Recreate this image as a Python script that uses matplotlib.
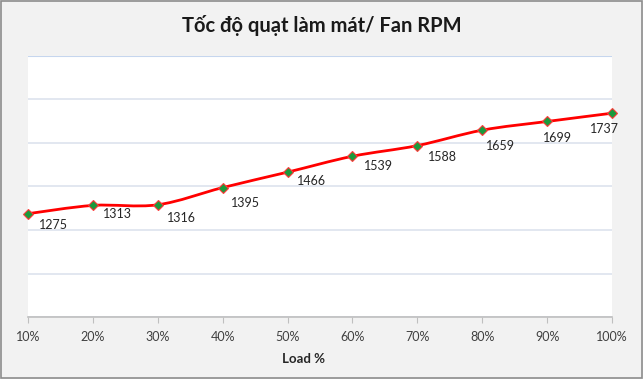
import numpy as np
import matplotlib.pyplot as plt
from matplotlib.path import Path
from matplotlib.patches import PathPatch, Rectangle

# chart data
load_pct = [10, 20, 30, 40, 50, 60, 70, 80, 90, 100]
tick_labels = ["10%", "20%", "30%", "40%", "50%", "60%", "70%", "80%", "90%", "100%"]
fan_rpm = [1275, 1313, 1316, 1395, 1466, 1539, 1588, 1659, 1699, 1737]

# label nudges in pixels (right, down), as placed in the original
label_dx = [25, 25, 24, 23, 24, 26, 25, 18, 10, -8]
label_dy = [11, 9, 13, 15, 9, 10, 11, 16, 17, 16]

plt.rcParams["font.family"] = ["Lato", "DejaVu Sans"]

fig = plt.figure(figsize=(6.43, 3.79), dpi=100)
fig.patch.set_facecolor("#f2f2f2")
fig.add_artist(Rectangle((0.002, 0.003), 0.996, 0.994, transform=fig.transFigure,
                         fill=False, edgecolor="#8c8c8c", linewidth=1.2))

W, H = 643, 379
ax = fig.add_axes([28 / W, (H - 317) / H, (612 - 28) / W, (317 - 56) / H])
ax.set_facecolor("white")

ax.set_xlim(10, 100)
ax.set_ylim(800, 2000)
ax.set_yticks(np.arange(800, 2001, 200))
ax.set_yticklabels([])
ax.tick_params(axis="y", length=0)
ax.grid(axis="y", color="#dde3ee", linewidth=1.2)
ax.set_axisbelow(True)
for s in ["left", "right", "top"]:
    ax.spines[s].set_visible(False)
ax.spines["bottom"].set_color("#bfbfbf")
ax.spines["bottom"].set_linewidth(1.2)
ax.axhline(2000, color="#c6d6ee", linewidth=1.5, zorder=1)

ax.set_xticks(load_pct)
ax.set_xticklabels(tick_labels, fontsize=9, color="#404040")
ax.tick_params(axis="x", length=4, color="#bfbfbf", pad=6)
ax.set_xlabel("Load %", fontsize=9.5, fontweight="bold", color="#262626", labelpad=7)
ax.xaxis.set_label_coords((304 - 28) / (612 - 28), -(359 - 317) / (317 - 56))
ax.xaxis.label.set_va("center")

# smoothed line, Excel-style bezier through the points
x = np.array(load_pct, dtype=float)
y = np.array(fan_rpm, dtype=float)
verts = [(x[0], y[0])]
codes = [Path.MOVETO]
n = len(x)
for i in range(n - 1):
    p0 = (x[max(i - 1, 0)], y[max(i - 1, 0)])
    p1 = (x[i], y[i])
    p2 = (x[i + 1], y[i + 1])
    p3 = (x[min(i + 2, n - 1)], y[min(i + 2, n - 1)])
    c1 = (p1[0] + (p2[0] - p0[0]) / 6, p1[1] + (p2[1] - p0[1]) / 6)
    c2 = (p2[0] - (p3[0] - p1[0]) / 6, p2[1] - (p3[1] - p1[1]) / 6)
    verts += [c1, c2, p2]
    codes += [Path.CURVE4] * 3
ax.add_patch(PathPatch(Path(verts, codes), facecolor="none", edgecolor="#ff0000",
                       linewidth=2.0, zorder=3, clip_on=False))

ax.plot(load_pct, fan_rpm, linestyle="none", marker="D", markersize=5.5,
        markerfacecolor="#1a9a3c", markeredgecolor="#ff3b3b", markeredgewidth=0.8,
        zorder=4, clip_on=False)

for xi, yi, dx, dy in zip(load_pct, fan_rpm, label_dx, label_dy):
    ax.annotate(str(yi), (xi, yi), xytext=(dx * 0.72, -dy * 0.72),
                textcoords="offset points", ha="center", va="center",
                fontsize=9, color="#262626", zorder=5)

fig.text(0.5, 1 - 26 / H, "Tốc độ quạt làm mát/ Fan RPM", ha="center", va="center",
         fontsize=14.5, fontweight="bold", color="#1a1a1a")

fig.savefig("out.png", dpi=100, facecolor=fig.get_facecolor())
